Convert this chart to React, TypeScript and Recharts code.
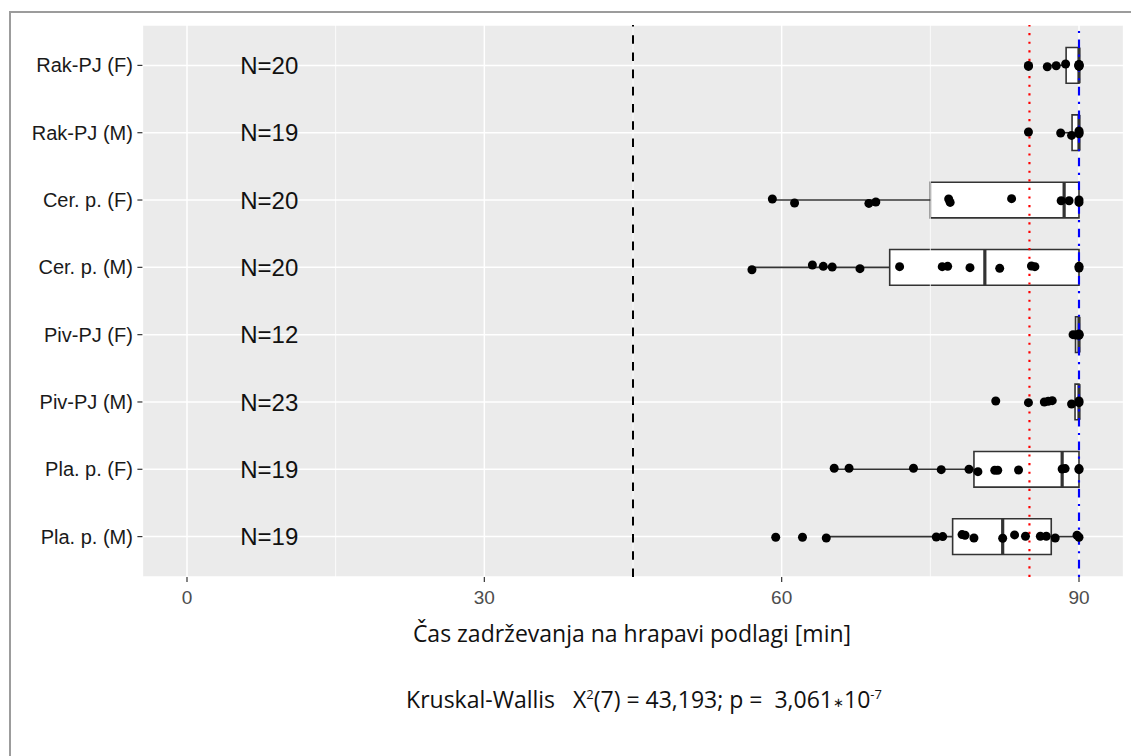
import React from "react";
import {
  CartesianGrid,
  ReferenceArea,
  ReferenceLine,
  Scatter,
  ScatterChart,
  XAxis,
  YAxis,
} from "recharts";

// groups, top to bottom
const categories = [
  "Rak-PJ (F)",
  "Rak-PJ (M)",
  "Cer. p. (F)",
  "Cer. p. (M)",
  "Piv-PJ (F)",
  "Piv-PJ (M)",
  "Pla. p. (F)",
  "Pla. p. (M)",
];
const nLabels = ["N=20", "N=19", "N=20", "N=20", "N=12", "N=23", "N=19", "N=19"];

// box statistics [min]
const whiskerLow = [86.8, 88.3, 59.1, 57.0, 89.4, 89.25, 65.3, 64.5];
const q1 = [88.7, 89.3, 75.0, 70.9, 89.65, 89.6, 79.4, 77.25];
const median = [90, 90, 88.5, 80.5, 90, 90, 88.3, 82.3];
const q3 = [90, 90, 90, 90, 90, 90, 90, 87.2];
const whiskerHigh = [90, 90, 90, 90, 90, 90, 90, 90];

// jittered observations: [value, vertical jitter in category units]
const rakF = [
  [84.9, 0.015], [84.9, 0.0], [86.8, 0.02], [87.7, 0.005], [88.65, -0.02],
  [90, 0], [90, 0.015], [90, -0.015], [90, 0.01], [90, -0.01],
];
const rakM = [
  [84.9, -0.01], [88.15, 0.005], [89.25, 0.04], [90, -0.025], [90, 0.0], [90, 0.015],
];
const cerF = [
  [59.06, -0.015], [61.3, 0.045], [68.8, 0.05], [69.5, 0.03], [76.85, -0.015],
  [77.0, 0.035], [83.2, -0.02], [88.2, 0.01], [89.0, 0.01], [90, 0.035], [90, 0.0],
];
const cerM = [
  [57.0, 0.035], [63.1, -0.035], [64.2, -0.015], [65.1, -0.005], [67.9, 0.02],
  [71.9, -0.01], [76.2, -0.01], [76.75, -0.015], [79.0, 0.005], [82.0, 0.015],
  [85.2, -0.02], [85.55, -0.01], [90, -0.015], [90, 0.01],
];
const pivF = [[89.4, 0.0], [89.7, 0.005], [90, 0.0], [90, -0.01], [90, 0.01]];
const pivM = [
  [81.6, -0.015], [84.9, 0.01], [86.5, 0.0], [86.9, -0.01], [87.3, -0.02],
  [89.25, 0.03], [90, -0.015], [90, 0.01],
];
const plaF = [
  [65.3, -0.015], [66.8, -0.015], [73.3, -0.015], [76.1, 0.005], [78.9, 0.0],
  [79.8, 0.035], [81.5, 0.015], [81.8, 0.015], [83.9, 0.01], [88.3, -0.005],
  [88.6, -0.01], [90, 0.005], [90, -0.01],
];
const plaM = [
  [59.4, 0.01], [62.1, 0.01], [64.5, 0.02], [75.6, 0.005], [76.25, 0.0],
  [78.2, -0.03], [78.5, -0.02], [79.4, 0.02], [82.3, 0.025], [83.5, -0.025],
  [84.6, -0.005], [86.1, -0.005], [86.7, -0.005], [87.6, 0.02], [89.8, -0.02],
  [90, 0.01],
];

const xTicks = [0, 30, 60, 90];
const minorTicks = [15, 45, 75];
const threshold = 45;
const redRef = 85;
const blueRef = 90;
const nLabelX = 8.3;

const groups = [rakF, rakM, cerF, cerM, pivF, pivM, plaF, plaM];
const pointData = groups.flatMap((g, i) =>
  g.map(([v, j]) => ({ x: v, y: i + 1 + j }))
);
const nData = nLabels.map((label, i) => ({ x: nLabelX, y: i + 1, label }));

const BOX_HALF = 0.265;
const BOX_STROKE = "#333333";
const FONT = "'Liberation Sans', Arial, sans-serif";
const TITLE_FONT = "'Open Sans', sans-serif";

export default function App() {
  return (
    <div
      style={{
        position: "absolute",
        left: 0,
        top: 0,
        width: 1131,
        height: 756,
        background: "#fff",
        overflow: "hidden",
        fontFamily: FONT,
      }}
    >
      <div
        style={{
          position: "absolute",
          left: 9,
          top: 11,
          width: 1200,
          height: 800,
          borderTop: "2px solid #9c9c9c",
          borderLeft: "2px solid #9c9c9c",
        }}
      />
      <div style={{ position: "absolute", left: 0, top: 0 }}>
        <ScatterChart
          width={1131}
          height={756}
          margin={{ top: 25, right: 7.4, bottom: 139, left: 0 }}
        >
          <CartesianGrid
            stroke="#ffffff"
            strokeWidth={1.5}
            fill="#ebebeb"
            fillOpacity={1}
          />
          <XAxis
            type="number"
            dataKey="x"
            domain={[-4.5, 94.5]}
            allowDataOverflow
            ticks={xTicks}
            axisLine={false}
            tickLine={{ stroke: "#333333", strokeWidth: 1.2 }}
            tickSize={5}
            tickMargin={9}
            height={40}
            tick={{ fill: "#4d4d4d", fontSize: 19, fontFamily: FONT }}
          />
          <YAxis
            type="number"
            dataKey="y"
            domain={[0.4, 8.6]}
            allowDataOverflow
            reversed
            ticks={[1, 2, 3, 4, 5, 6, 7, 8]}
            tickFormatter={(v) => categories[Number(v) - 1] ?? ""}
            axisLine={false}
            tickLine={{ stroke: "#333333", strokeWidth: 1.2 }}
            tickSize={5}
            tickMargin={4.5}
            width={142.4}
            tick={{ fill: "#1a1a1a", fontSize: 20, fontFamily: FONT }}
          />
          {minorTicks.map((t) => (
            <ReferenceLine
              key={`minor-${t}`}
              x={t}
              stroke="#ffffff"
              strokeWidth={0.8}
            />
          ))}
          <ReferenceLine
            x={threshold}
            stroke="#000000"
            strokeWidth={2}
            strokeDasharray="8.6 8.6"
          />
          {categories.map((c, i) => (
            <ReferenceLine
              key={`wl-${c}`}
              segment={[
                { x: whiskerLow[i], y: i + 1 },
                { x: q1[i], y: i + 1 },
              ]}
              stroke={BOX_STROKE}
              strokeWidth={1.6}
            />
          ))}
          {categories.map((c, i) => (
            <ReferenceLine
              key={`wh-${c}`}
              segment={[
                { x: q3[i], y: i + 1 },
                { x: whiskerHigh[i], y: i + 1 },
              ]}
              stroke={BOX_STROKE}
              strokeWidth={1.6}
            />
          ))}
          {categories.map((c, i) => (
            <ReferenceArea
              key={`box-${c}`}
              x1={q1[i]}
              x2={q3[i]}
              y1={i + 1 - BOX_HALF}
              y2={i + 1 + BOX_HALF}
              fill="#ffffff"
              fillOpacity={1}
              stroke={BOX_STROKE}
              strokeWidth={1.6}
            />
          ))}
          {categories.map((c, i) => (
            <ReferenceLine
              key={`med-${c}`}
              segment={[
                { x: median[i], y: i + 1 - BOX_HALF },
                { x: median[i], y: i + 1 + BOX_HALF },
              ]}
              stroke={BOX_STROKE}
              strokeWidth={3.2}
            />
          ))}
          <Scatter
            data={nData}
            isAnimationActive={false}
            shape={(p: any) => (
              <text
                x={p.cx}
                y={p.cy}
                dy="0.36em"
                textAnchor="middle"
                fontSize={24}
                fontFamily={FONT}
                fill="#111111"
              >
                {p.payload.label}
              </text>
            )}
          />
          <Scatter
            data={pointData}
            isAnimationActive={false}
            shape={(p: any) => (
              <circle cx={p.cx} cy={p.cy} r={4.5} fill="#000000" />
            )}
          />
          <ReferenceLine
            x={redRef}
            stroke="#ff0000"
            strokeWidth={2.15}
            strokeDasharray="2.15 6.45"
          />
          <ReferenceLine
            x={blueRef}
            stroke="#0000ff"
            strokeWidth={2.15}
            strokeDasharray="2.15 6.45 8.6 6.45"
          />
        </ScatterChart>
      </div>
      <div
        style={{
          position: "absolute",
          left: 332,
          top: 617,
          width: 600,
          textAlign: "center",
          fontFamily: TITLE_FONT,
          fontSize: 23,
          color: "#111",
          whiteSpace: "pre",
        }}
      >
        Čas zadrževanja na hrapavi podlagi [min]
      </div>
      <div
        style={{
          position: "absolute",
          left: 294,
          top: 683,
          width: 700,
          textAlign: "center",
          fontFamily: TITLE_FONT,
          fontSize: 23,
          color: "#111",
          whiteSpace: "pre",
        }}
      >
        {"Kruskal-Wallis   Χ"}
        <sup style={{ fontSize: 13 }}>2</sup>
        {"(7) = 43,193; p =  3,061"}
        <span style={{ fontSize: 13, verticalAlign: "middle" }}>∗</span>
        {"10"}
        <sup style={{ fontSize: 13 }}>-7</sup>
      </div>
    </div>
  );
}
